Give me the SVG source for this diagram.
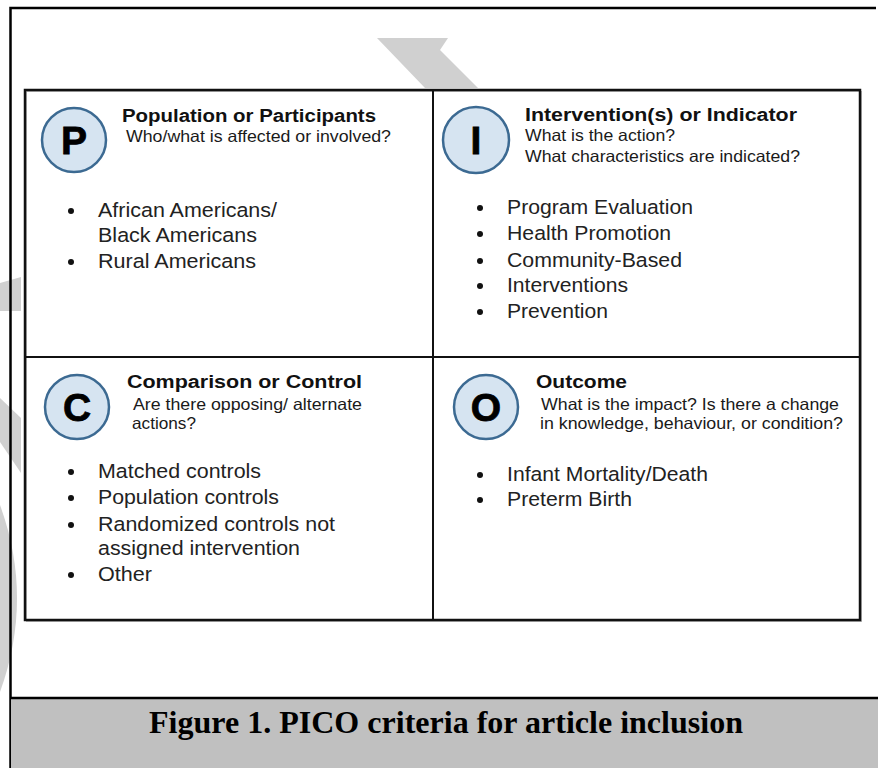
<svg xmlns="http://www.w3.org/2000/svg" width="878" height="768" viewBox="0 0 878 768">
<style>
.wm{fill:#d0d0d0}
.frame{fill:none;stroke:#000;stroke-width:2.5}
.grid{fill:none;stroke:#111;stroke-width:2.5}
.div{stroke:#111;stroke-width:2}
.badge{fill:#d6e4f1;stroke:#3c6a92;stroke-width:2.5}
.letter{font-family:"Liberation Sans",Arial,sans-serif;font-weight:bold;font-size:39px;fill:#000;stroke:#000;stroke-width:0.8;text-anchor:middle}
.title{font-family:"Liberation Sans",Arial,sans-serif;font-weight:bold;font-size:18px;fill:#111}
.sub{font-family:"Liberation Sans",Arial,sans-serif;font-size:16.5px;fill:#1a1a1a}
.item{font-family:"Liberation Sans",Arial,sans-serif;font-size:20.5px;fill:#222}
.dot{fill:#111}
.cap{font-family:"Liberation Serif","Times New Roman",serif;font-weight:bold;font-size:31px;fill:#000}
</style>
<rect width="878" height="768" fill="#fff"/>
<g id="watermark">
<polygon class="wm" points="377,38 448,38 440,50 478,88 425,88"/>
<polygon class="wm" points="0,283 21,277 21,311 0,311"/>
<polygon class="wm" points="0,398 21,418 21,473 0,442"/>
<path class="wm" d="M0,505 Q34,598 0,692 Z"/>
</g>
<g id="frame">
<path class="frame" d="M876,8 H10.5 V768"/>
<rect x="11" y="699" width="867" height="69" fill="#c0c0c0"/>
<line x1="10" y1="698" x2="878" y2="698" stroke="#000" stroke-width="2.5"/>
</g>
<g id="grid">
<rect x="25" y="90" width="835" height="530" fill="#fff"/>
<rect x="26.5" y="91.5" width="835" height="530" fill="none" stroke="#bbb" stroke-width="1"/>
<rect class="grid" x="25" y="90" width="835" height="530"/>
<line class="div" x1="433" y1="90" x2="433" y2="620"/>
<line class="div" x1="25" y1="357" x2="860" y2="357"/>
</g>
<g id="node-P">
<circle class="badge" cx="74" cy="140" r="32"/>
<text class="letter" x="74" y="154">P</text>
<text class="title" x="122" y="122" textLength="254" lengthAdjust="spacingAndGlyphs">Population or Participants</text>
<text class="sub" x="126" y="142" textLength="265" lengthAdjust="spacingAndGlyphs">Who/what is affected or involved?</text>
<circle class="dot" cx="71" cy="211" r="3"/>
<text class="item" x="98" y="217" textLength="179" lengthAdjust="spacingAndGlyphs">African Americans/</text>
<text class="item" x="98" y="242" textLength="159" lengthAdjust="spacingAndGlyphs">Black Americans</text>
<circle class="dot" cx="71" cy="262" r="3"/>
<text class="item" x="98" y="268" textLength="158" lengthAdjust="spacingAndGlyphs">Rural Americans</text>
</g>
<g id="node-I">
<circle class="badge" cx="476" cy="140" r="33"/>
<text class="letter" x="476" y="154">I</text>
<text class="title" x="525" y="121" textLength="272" lengthAdjust="spacingAndGlyphs">Intervention(s) or Indicator</text>
<text class="sub" x="525" y="141" textLength="150" lengthAdjust="spacingAndGlyphs">What is the action?</text>
<text class="sub" x="525" y="162" textLength="275" lengthAdjust="spacingAndGlyphs">What characteristics are indicated?</text>
<circle class="dot" cx="480" cy="208" r="3"/>
<text class="item" x="507" y="214" textLength="186" lengthAdjust="spacingAndGlyphs">Program Evaluation</text>
<circle class="dot" cx="480" cy="234" r="3"/>
<text class="item" x="507" y="240" textLength="164" lengthAdjust="spacingAndGlyphs">Health Promotion</text>
<circle class="dot" cx="480" cy="261" r="3"/>
<text class="item" x="507" y="267" textLength="175" lengthAdjust="spacingAndGlyphs">Community-Based</text>
<circle class="dot" cx="480" cy="286" r="3"/>
<text class="item" x="507" y="292" textLength="121" lengthAdjust="spacingAndGlyphs">Interventions</text>
<circle class="dot" cx="480" cy="312" r="3"/>
<text class="item" x="507" y="318" textLength="101" lengthAdjust="spacingAndGlyphs">Prevention</text>
</g>
<g id="node-C">
<circle class="badge" cx="77" cy="407" r="32"/>
<text class="letter" x="77" y="421">C</text>
<text class="title" x="127" y="388" textLength="235" lengthAdjust="spacingAndGlyphs">Comparison or Control</text>
<text class="sub" x="133" y="410" textLength="229" lengthAdjust="spacingAndGlyphs">Are there opposing/ alternate</text>
<text class="sub" x="132" y="429" textLength="64" lengthAdjust="spacingAndGlyphs">actions?</text>
<circle class="dot" cx="71" cy="472" r="3"/>
<text class="item" x="98" y="478" textLength="163" lengthAdjust="spacingAndGlyphs">Matched controls</text>
<circle class="dot" cx="71" cy="498" r="3"/>
<text class="item" x="98" y="504" textLength="181" lengthAdjust="spacingAndGlyphs">Population controls</text>
<circle class="dot" cx="71" cy="525" r="3"/>
<text class="item" x="98" y="531" textLength="237" lengthAdjust="spacingAndGlyphs">Randomized controls not</text>
<text class="item" x="98" y="555" textLength="202" lengthAdjust="spacingAndGlyphs">assigned intervention</text>
<circle class="dot" cx="71" cy="575" r="3"/>
<text class="item" x="98" y="581" textLength="54" lengthAdjust="spacingAndGlyphs">Other</text>
</g>
<g id="node-O">
<circle class="badge" cx="486" cy="407" r="32"/>
<text class="letter" x="486" y="421">O</text>
<text class="title" x="536" y="388" textLength="91" lengthAdjust="spacingAndGlyphs">Outcome</text>
<text class="sub" x="541" y="410" textLength="298" lengthAdjust="spacingAndGlyphs">What is the impact? Is there a change</text>
<text class="sub" x="540" y="429" textLength="303" lengthAdjust="spacingAndGlyphs">in knowledge, behaviour, or condition?</text>
<circle class="dot" cx="480" cy="475" r="3"/>
<text class="item" x="507" y="481" textLength="201" lengthAdjust="spacingAndGlyphs">Infant Mortality/Death</text>
<circle class="dot" cx="480" cy="500" r="3"/>
<text class="item" x="507" y="506" textLength="125" lengthAdjust="spacingAndGlyphs">Preterm Birth</text>
</g>
<g id="caption">
<text class="cap" x="149" y="733" textLength="594" lengthAdjust="spacingAndGlyphs">Figure 1. PICO criteria for article inclusion</text>
</g>
</svg>
